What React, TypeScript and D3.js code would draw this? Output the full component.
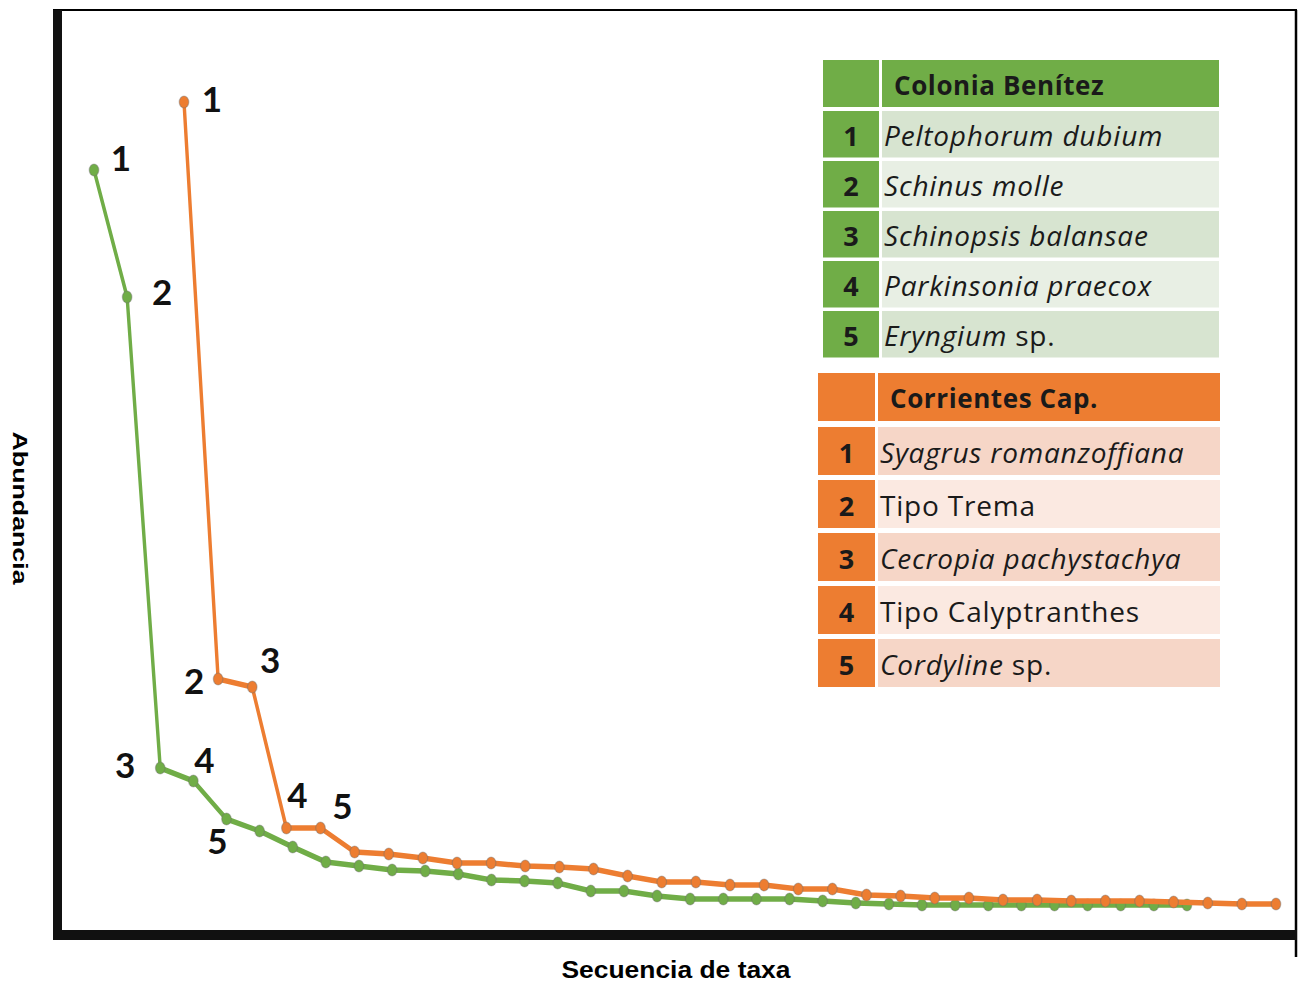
import React from "react";
import * as d3 from "d3";

// Abundance by rank (taxa sequence) for each site
const coloniaBenitez = [
  760, 633, 162, 149, 111, 99, 83, 68, 64, 60, 59, 56, 50, 49, 47, 39, 39,
  34, 31, 31, 31, 31, 29, 27, 26, 25, 25, 25, 25, 25, 25, 25, 25, 25,
];
const corrientesCap = [
  828, 251, 243, 102, 102, 78, 76, 72, 67, 67, 64, 63, 61, 54, 48, 48, 45,
  45, 41, 41, 35, 34, 32, 32, 30, 30, 29, 29, 29, 28, 27, 26, 26,
];

// Rank labels shown next to the five most abundant taxa
const rankLabels = ["1", "2", "3", "4", "5"];
const greenLabelOffsets: [number, number][] = [
  [27, -13], [35, -6], [-35, -4], [11, -22], [-9, 21],
];
const orangeLabelOffsets: [number, number][] = [
  [28, -4], [-24, 1], [18, -28], [11, -34], [22, -23],
];

const greenTitle = "Colonia Benítez";
const greenTaxa: { it: string; rest: string }[] = [
  { it: "Peltophorum dubium", rest: "" },
  { it: "Schinus molle", rest: "" },
  { it: "Schinopsis balansae", rest: "" },
  { it: "Parkinsonia praecox", rest: "" },
  { it: "Eryngium", rest: " sp." },
];
const orangeTitle = "Corrientes Cap.";
const orangeTaxa: { it: string; rest: string }[] = [
  { it: "Syagrus romanzoffiana", rest: "" },
  { it: "", rest: "Tipo Trema" },
  { it: "Cecropia pachystachya", rest: "" },
  { it: "", rest: "Tipo Calyptranthes" },
  { it: "Cordyline", rest: " sp." },
];

const GREEN = "#70AD47";
const ORANGE = "#ED7D31";
const SX = 0.62; // horizontal squeeze of the line strokes

const W = 1303;
const H = 982;

const y = d3.scaleLinear().domain([0, 920]).range([930, 10]);
const xGreen = d3
  .scalePoint<number>()
  .domain(d3.range(coloniaBenitez.length))
  .range([94, 1187]);
const xOrange = d3
  .scalePoint<number>()
  .domain(d3.range(corrientesCap.length))
  .range([184, 1276]);

function Series({
  values,
  x,
  color,
}: {
  values: number[];
  x: d3.ScalePoint<number>;
  color: string;
}) {
  const line = d3
    .line<number>()
    .x((_, i) => (x(i) as number) / SX)
    .y((d) => y(d));
  return (
    <g>
      <g transform={`scale(${SX},1)`}>
        <path d={line(values) || ""} fill="none" stroke={color} strokeWidth={5.5} strokeLinejoin="round" />
      </g>
      {values.map((v, i) => (
        <ellipse
          key={i}
          cx={x(i) as number}
          cy={y(v)}
          rx={4.8}
          ry={6}
          fill={color}
          stroke="rgba(110,110,110,0.4)"
          strokeWidth={1.2}
        />
      ))}
    </g>
  );
}

function RankLabels({
  values,
  x,
  offsets,
}: {
  values: number[];
  x: d3.ScalePoint<number>;
  offsets: [number, number][];
}) {
  return (
    <g fontFamily="Lato, 'Open Sans', sans-serif" fontWeight={700} fontSize={35} fill="#111">
      {rankLabels.map((lab, i) => (
        <text
          key={i}
          x={(x(i) as number) + offsets[i][0]}
          y={y(values[i]) + offsets[i][1]}
          textAnchor="middle"
          dominantBaseline="central"
        >
          {lab}
        </text>
      ))}
    </g>
  );
}

function Table({
  x0,
  x1,
  xName,
  top,
  headH,
  rowTop,
  rowStep,
  rowH,
  title,
  taxa,
  main,
  rowDark,
  rowLight,
}: {
  x0: number;
  x1: number;
  xName: number;
  top: number;
  headH: number;
  rowTop: number;
  rowStep: number;
  rowH: number;
  title: string;
  taxa: { it: string; rest: string }[];
  main: string;
  rowDark: string;
  rowLight: string;
}) {
  const numW = xName - x0 - 3;
  return (
    <g fontFamily="'Open Sans', Lato, sans-serif">
      <rect x={x0} y={top} width={numW} height={headH} fill={main} />
      <rect x={xName} y={top} width={x1 - xName} height={headH} fill={main} />
      <text
        x={xName + 12}
        y={top + headH / 2 + 1}
        dominantBaseline="central"
        fontWeight={700}
        fontSize={26}
        letterSpacing={0.6}
        fill="#1a1a1a"
      >
        {title}
      </text>
      {taxa.map((t, i) => {
        const ry = rowTop + i * rowStep;
        return (
          <g key={i}>
            <rect x={x0} y={ry} width={numW} height={rowH} fill={main} />
            <rect
              x={xName}
              y={ry}
              width={x1 - xName}
              height={rowH}
              fill={i % 2 === 0 ? rowDark : rowLight}
            />
            <text
              x={x0 + numW / 2}
              y={ry + rowH / 2 + 1}
              textAnchor="middle"
              dominantBaseline="central"
              fontWeight={700}
              fontSize={27}
              fill="#1a1a1a"
            >
              {i + 1}
            </text>
            <text
              x={xName + 2}
              y={ry + rowH / 2 + 1}
              dominantBaseline="central"
              fontSize={28}
              letterSpacing={0.8}
              fill="#1a1a1a"
            >
              {t.it && <tspan fontStyle="italic">{t.it}</tspan>}
              {t.rest && <tspan>{t.rest}</tspan>}
            </text>
          </g>
        );
      })}
    </g>
  );
}

export default function App() {
  return (
    <svg
      width={W}
      height={H}
      viewBox={`0 0 ${W} ${H}`}
      style={{ position: "absolute", left: 0, top: 0, background: "#fff" }}
    >
      <rect x={0} y={0} width={W} height={H} fill="#fff" />

      {/* frame */}
      <line x1={53} x2={1297} y1={10} y2={10} stroke="#000" strokeWidth={2} />
      <line x1={1296} x2={1296} y1={10} y2={957} stroke="#000" strokeWidth={2.5} />

      {/* series */}
      <Series values={coloniaBenitez} x={xGreen} color={GREEN} />
      <Series values={corrientesCap} x={xOrange} color={ORANGE} />

      {/* axes */}
      <rect x={53} y={10} width={9} height={930} fill="#111" />
      <rect x={53} y={930} width={1244} height={10} fill="#111" />

      <RankLabels values={coloniaBenitez} x={xGreen} offsets={greenLabelOffsets} />
      <RankLabels values={corrientesCap} x={xOrange} offsets={orangeLabelOffsets} />

      {/* axis titles */}
      <text
        x={676}
        y={978}
        textAnchor="middle"
        fontFamily="'Liberation Sans', Arial, sans-serif"
        fontWeight={700}
        fontSize={24}
        textLength={229}
        lengthAdjust="spacingAndGlyphs"
        fill="#000"
      >
        Secuencia de taxa
      </text>
      <text
        transform="translate(20,508) rotate(90)"
        textAnchor="middle"
        dominantBaseline="central"
        fontFamily="'Liberation Sans', Arial, sans-serif"
        fontWeight={700}
        fontSize={20}
        textLength={153}
        lengthAdjust="spacingAndGlyphs"
        fill="#000"
      >
        Abundancia
      </text>

      {/* legend tables */}
      <Table
        x0={823}
        x1={1219}
        xName={882}
        top={60}
        headH={47}
        rowTop={111}
        rowStep={50}
        rowH={46.5}
        title={greenTitle}
        taxa={greenTaxa}
        main={GREEN}
        rowDark="#D7E4D0"
        rowLight="#E8EFE4"
      />
      <Table
        x0={818}
        x1={1220}
        xName={878}
        top={373}
        headH={48}
        rowTop={427}
        rowStep={53}
        rowH={48}
        title={orangeTitle}
        taxa={orangeTaxa}
        main={ORANGE}
        rowDark="#F6D6C7"
        rowLight="#FBE9E1"
      />
    </svg>
  );
}
